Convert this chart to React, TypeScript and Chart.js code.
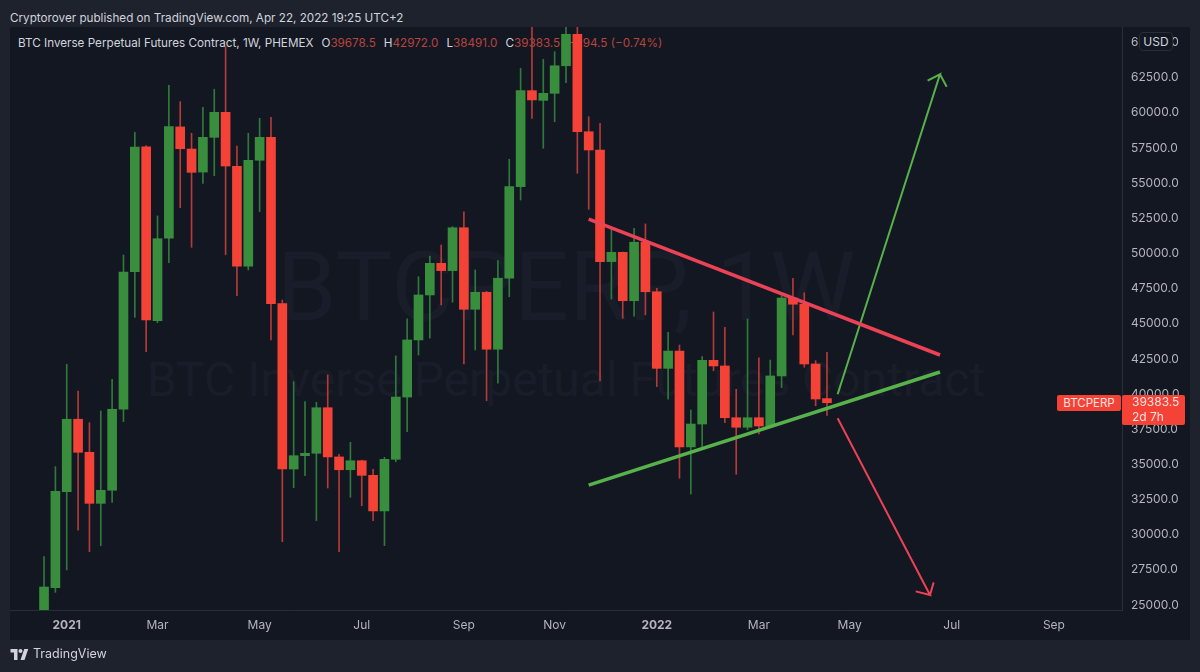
import { useEffect, useRef } from "react"
import Chart from "chart.js/auto"

// weekly candles, first one is the week before Christmas 2020
const opens = [
  23580, 26230, 33060, 38210, 35860, 32230, 33160, 38920, 48700, 57590,
  45220, 51080, 59000, 57430, 55790, 58260, 60040, 56200, 49090, 56630,
  58260, 46430, 34670, 35620, 35790, 39030, 35530, 34620, 35260, 34220,
  31690, 35360, 39790, 43850, 47050, 49300, 48780, 51830, 46030, 47240,
  43190, 48240, 54750, 61580, 60890, 61390, 63350, 65590, 58660, 57360,
  49420, 50080, 46640, 50800, 47280, 41830, 43060, 36240, 37870, 42400,
  42000, 38320, 37640, 38320, 37730, 41290, 46830, 46390, 42140, 39678.5,
]
const closes = [
  26280, 33090, 38210, 35860, 32230, 33160, 38920, 48680, 57570, 45270,
  51050, 59020, 57450, 55770, 58260, 60040, 56220, 49090, 56630, 58260,
  46430, 34670, 35620, 35790, 39030, 35530, 34620, 35260, 34220, 31690,
  35360, 39790, 43850, 47050, 49300, 48780, 51830, 46030, 47240, 43190,
  48240, 54750, 61580, 60920, 61390, 63350, 65590, 58660, 57360, 49420,
  50080, 46640, 50800, 47280, 41830, 43060, 36240, 37870, 42400, 42000,
  38320, 37640, 38320, 37730, 41290, 46830, 46390, 42140, 39650, 39383.5,
]
const highs = [
  28440, 34840, 42120, 40220, 37970, 38800, 41050, 49890, 58620, 57680,
  52670, 61960, 60800, 58550, 60400, 61680, 64710, 57640, 58550, 59610,
  59690, 46690, 40880, 39460, 39420, 41360, 35720, 36570, 35300, 34650,
  35500, 42710, 45360, 48350, 49820, 50600, 51910, 52970, 48830, 47300,
  49490, 56700, 63170, 66600, 63810, 64350, 67000, 67500, 59730, 59260,
  51720, 50100, 51790, 52100, 47520, 44390, 43490, 38870, 42660, 45840,
  44750, 40340, 45340, 42570, 42420, 46980, 48240, 47210, 42380, 42972,
]
const lows = [
  22510, 25900, 27490, 30330, 28790, 29220, 32300, 38040, 45460, 43010,
  45080, 49340, 53260, 50440, 54990, 55530, 49910, 47000, 48830, 52970,
  43850, 29500, 33340, 34200, 31000, 33320, 28790, 32660, 32060, 31000,
  29220, 35190, 37330, 42780, 43970, 46340, 46530, 42140, 43140, 39530,
  40770, 46930, 53800, 59610, 57480, 59370, 62150, 55700, 53140, 40930,
  46760, 45390, 45550, 45630, 40530, 39630, 34010, 32890, 36260, 41660,
  37970, 34300, 37450, 37160, 37660, 40450, 44200, 41910, 39170, 38491,
]

const priceTicks = [
  25000, 27500, 30000, 32500, 35000, 37500, 40000, 42500, 45000, 47500,
  50000, 52500, 55000, 57500, 60000, 62500, 65000,
]
const timeTicks = [2, 10, 19, 28, 37, 45, 54, 63, 71, 80, 89]
const timeLabels = ["2021", "Mar", "May", "Jul", "Sep", "Nov", "2022", "Mar", "May", "Jul", "Sep"]

// the hand drawn lines, x is the week number
const redTrend = [{ x: 48, y: 52450 }, { x: 78.96, y: 42780 }]
const greenTrend = [{ x: 48, y: 33530 }, { x: 78.96, y: 41570 }]
const greenArrow = [
  { x: 69.94, y: 39985 },
  { x: 78.96, y: 62740 },
  { x: 77.87, y: 62290 },
  { x: 78.96, y: 62740 },
  { x: 79.55, y: 61860 },
]
const redArrow = [
  { x: 69.94, y: 38280 },
  { x: 78.08, y: 25710 },
  { x: 76.82, y: 25970 },
  { x: 78.08, y: 25710 },
  { x: 78.4, y: 26610 },
]

const UP = "#388e3c"
const DOWN = "#f44336"
const UP_WICK = "#2f7a3a"
const DOWN_WICK = "#b53a38"
const RED_LINE = "#ec4256"
const GREEN_LINE = "#58b24b"
const FONT = "Inter, sans-serif"

export default function App() {
  const canvasRef = useRef<HTMLCanvasElement>(null)

  useEffect(() => {
    if (!canvasRef.current) return
    const candleColor = (up: string, down: string) => opens.map((o, i) => (closes[i] >= o ? up : down))

    const chart = new Chart(canvasRef.current, {
      type: "bar",
      data: {
        datasets: [
          {
            data: opens.map((o, i) => ({ x: i, y: [o, closes[i]] })),
            backgroundColor: candleColor(UP, DOWN),
            barThickness: 9,
            grouped: false,
            order: 2,
          },
          {
            data: opens.map((_, i) => ({ x: i, y: [lows[i], highs[i]] })),
            backgroundColor: candleColor(UP_WICK, DOWN_WICK),
            barThickness: 1,
            grouped: false,
            order: 3,
          },
          ...[
            { data: redTrend, color: RED_LINE, width: 3.5 },
            { data: greenTrend, color: GREEN_LINE, width: 3.5 },
            { data: greenArrow, color: GREEN_LINE, width: 2 },
            { data: redArrow, color: RED_LINE, width: 2 },
          ].map((line) => ({
            type: "line" as const,
            data: line.data,
            borderColor: line.color,
            borderWidth: line.width,
            pointRadius: 0,
            tension: 0,
            order: 1,
          })),
        ],
      },
      options: {
        responsive: false,
        animation: false,
        layout: { padding: { left: 10, top: 27, right: 10, bottom: 32 } },
        plugins: { legend: { display: false }, tooltip: { enabled: false } },
        scales: {
          x: {
            type: "linear",
            min: -3,
            max: 95,
            offset: false,
            grid: { display: false, drawTicks: false },
            border: { color: "#2a2e39" },
            afterBuildTicks: (scale) => {
              scale.ticks = timeTicks.map((value) => ({ value }))
            },
            afterFit: (scale) => {
              scale.height = 30
            },
            ticks: {
              autoSkip: false,
              maxRotation: 0,
              padding: 8,
              color: "#b2b5be",
              font: (ctx) => ({
                family: FONT,
                size: 12,
                weight: /^\d/.test(String(ctx.tick?.label)) ? "bold" : "normal",
              }),
              callback: (value) => timeLabels[timeTicks.indexOf(Number(value))],
            },
          },
          y: {
            position: "right",
            min: 24644,
            max: 66107,
            grid: { display: false, drawTicks: false },
            border: { color: "#2a2e39" },
            afterBuildTicks: (scale) => {
              scale.ticks = priceTicks.map((value) => ({ value }))
            },
            afterFit: (scale) => {
              scale.width = 68
            },
            ticks: {
              autoSkip: false,
              padding: 9,
              color: "#b2b5be",
              font: { family: FONT, size: 12 },
              callback: (value) => Number(value).toFixed(1),
            },
          },
        },
      },
    })

    return () => {
      chart.destroy()
    }
  }, [])

  const red = { color: "#b8443f" }

  return (
    <div style={{ position: "fixed", left: 0, top: 0, width: 1200, height: 672, overflow: "hidden", background: "#1e222d", fontFamily: FONT }}>
      <div style={{ position: "absolute", left: 10, top: 8, fontSize: 11.7, lineHeight: "20px", color: "#d1d4dc", whiteSpace: "nowrap" }}>
        Cryptorover published on TradingView.com, Apr 22, 2022 19:25 UTC+2
      </div>

      <div style={{ position: "absolute", left: 10, top: 27, width: 1180, height: 613, background: "#131722" }} />

      {/* watermark sits under the candles */}
      <div style={{ position: "absolute", left: 10, width: 1112, top: 232, textAlign: "center", fontFamily: "Roboto, sans-serif", fontSize: 96, lineHeight: "110px", color: "#191d29", whiteSpace: "nowrap" }}>
        BTCPERP, 1W
      </div>
      <div style={{ position: "absolute", left: 10, width: 1112, top: 350, textAlign: "center", fontFamily: "Roboto, sans-serif", fontSize: 48, lineHeight: "60px", color: "#191d29", whiteSpace: "nowrap" }}>
        BTC Inverse Perpetual Futures Contract
      </div>

      <div style={{ position: "absolute", left: 18, top: 34, fontSize: 11.7, lineHeight: "18px", color: "#d1d4dc", whiteSpace: "nowrap" }}>
        BTC Inverse Perpetual Futures Contract, 1W, PHEMEX
        <span style={{ marginLeft: 8 }}>O</span><span style={red}>39678.5</span>
        <span style={{ marginLeft: 8 }}>H</span><span style={red}>42972.0</span>
        <span style={{ marginLeft: 8 }}>L</span><span style={red}>38491.0</span>
        <span style={{ marginLeft: 8 }}>C</span><span style={red}>39383.5</span>
        <span style={{ ...red, marginLeft: 8 }}>−294.5 (−0.74%)</span>
      </div>

      <canvas ref={canvasRef} width={1200} height={672} style={{ position: "absolute", left: 0, top: 0 }} />

      <div style={{ position: "absolute", left: 1139, top: 32, width: 32, height: 17, lineHeight: "17px", textAlign: "center", fontSize: 12, color: "#d1d4dc", background: "#131722", border: "1px solid #2a2e39", borderRadius: 4 }}>
        USD
      </div>

      <div style={{ position: "absolute", left: 1057, top: 395, width: 64, height: 16, lineHeight: "16px", textAlign: "center", fontSize: 11.5, color: "#fbe3e1", background: DOWN, borderRadius: 2 }}>
        BTCPERP
      </div>
      <div style={{ position: "absolute", left: 1122, top: 395, width: 53, height: 30, paddingLeft: 10, fontSize: 12, lineHeight: "14.5px", color: "#fbe3e1", background: DOWN, borderRadius: 2 }}>
        39383.5
        <br />
        2d 7h
      </div>

      <svg style={{ position: "absolute", left: 10, top: 649 }} width="19" height="11" viewBox="0 0 36 22" fill="#d1d4dc">
        <path d="M14 22H7V7H0V0h14v22zM28 22h-8l7.5-22h8L28 22z" />
        <circle cx="20" cy="4" r="4" />
      </svg>
      <div style={{ position: "absolute", left: 33, top: 645, fontSize: 12.5, lineHeight: "18px", color: "#d1d4dc", whiteSpace: "nowrap" }}>
        TradingView
      </div>
    </div>
  )
}
